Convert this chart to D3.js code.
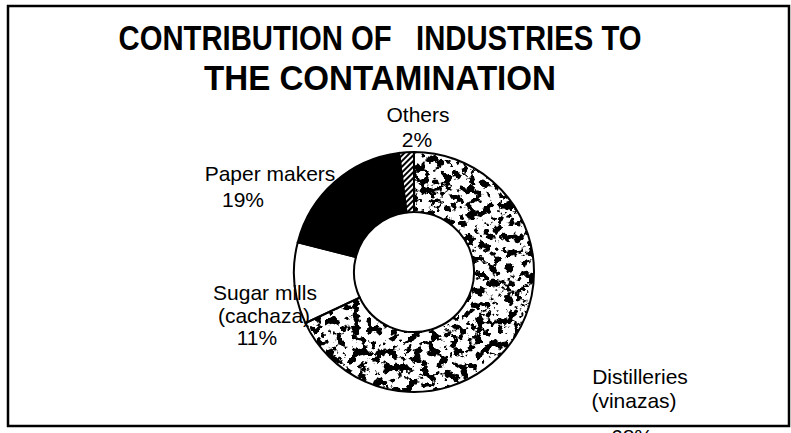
<!DOCTYPE html>
<html>
<head>
<meta charset="utf-8">
<script src="https://cdn.jsdelivr.net/npm/d3@7"></script>
<style>
  body { margin: 0; background: #fff; }
  svg { display: block; }
</style>
</head>
<body>
<div id="chart"></div>
<script>
// chart values
var categories = ["Distilleries (vinazas)", "Sugar mills (cachaza)", "Paper makers", "Others"];
var shares = [68, 11, 19, 2];
var nameLines = [["Distilleries", "(vinazas)"], ["Sugar mills", "(cachaza)"], ["Paper makers"], ["Others"]];
var titleLines = ["CONTRIBUTION OF \u00a0 INDUSTRIES TO", "THE CONTAMINATION"];

var width = 791, height = 433;
var cx = 414, cy = 272, outerR = 120, innerR = 60;

// title line widths as printed (condensed face)
var titleWidths = [523, 352];

// where each label block sits (per line centre x, baseline y)
var labelLayout = [
  [[640, 384], [634, 408], [632, 444]],
  [[265, 300], [264, 323], [257, 345]],
  [[270, 181], [243, 207]],
  [[418, 122], [417, 147]]
];

var svg = d3.select("#chart")
  .append("svg")
  .attr("width", width)
  .attr("height", height);

var defs = svg.append("defs");

// granite like speckle for the big slice
var grain = defs.append("filter")
  .attr("id", "grain")
  .attr("x", 0).attr("y", 0).attr("width", 1).attr("height", 1);
grain.append("feTurbulence")
  .attr("type", "fractalNoise")
  .attr("baseFrequency", 0.13)
  .attr("numOctaves", 4)
  .attr("seed", 11)
  .attr("result", "noise");
grain.append("feColorMatrix")
  .attr("in", "noise")
  .attr("type", "matrix")
  .attr("values", "0 0 0 0 0  0 0 0 0 0  0 0 0 0 0  -16 0 0 0 7.8")
  .attr("result", "blot");
grain.append("feComposite")
  .attr("in", "blot")
  .attr("in2", "SourceGraphic")
  .attr("operator", "in");

// diagonal hatch for "Others"
var hatch = defs.append("pattern")
  .attr("id", "hatch")
  .attr("patternUnits", "userSpaceOnUse")
  .attr("width", 4).attr("height", 4)
  .attr("patternTransform", "rotate(-45)");
hatch.append("rect").attr("width", 4).attr("height", 4).attr("fill", "#fff");
hatch.append("rect").attr("width", 4).attr("height", 2).attr("fill", "#000");

// frame
svg.append("rect")
  .attr("x", 8).attr("y", 6)
  .attr("width", 781).attr("height", 420)
  .attr("fill", "none")
  .attr("stroke", "#000")
  .attr("stroke-width", 2.5);

// title
svg.append("g").selectAll("text")
  .data(titleLines)
  .enter()
  .append("text")
  .attr("x", 380)
  .attr("y", (d, i) => 50 + i * 40)
  .attr("text-anchor", "middle")
  .attr("textLength", (d, i) => titleWidths[i])
  .attr("lengthAdjust", "spacingAndGlyphs")
  .style("font-family", "'Liberation Sans', Arial, sans-serif")
  .style("font-weight", "bold")
  .style("font-size", "35px")
  .text(d => d);

var pie = d3.pie().sort(null).value(d => d);
var arcs = pie(shares);
var arc = d3.arc().innerRadius(innerR).outerRadius(outerR);

var fills = ["#fff", "#fff", "#000", "url(#hatch)"];

var g = svg.append("g").attr("transform", "translate(" + cx + "," + cy + ")");

g.selectAll("path.slice")
  .data(arcs)
  .enter()
  .append("path")
  .attr("class", "slice")
  .attr("d", arc)
  .attr("fill", (d, i) => fills[i]);

// speckles on the distilleries slice
g.append("path")
  .attr("d", arc(arcs[0]))
  .attr("fill", "#000")
  .attr("filter", "url(#grain)");

g.selectAll("path.edge")
  .data(arcs)
  .enter()
  .append("path")
  .attr("class", "edge")
  .attr("d", arc)
  .attr("fill", "none")
  .attr("stroke", "#000")
  .attr("stroke-width", 2);

// labels
shares.forEach(function (v, i) {
  var lines = nameLines[i].concat([v + "%"]);
  svg.append("g").selectAll("text")
    .data(lines)
    .enter()
    .append("text")
    .attr("x", (d, j) => labelLayout[i][j][0])
    .attr("y", (d, j) => labelLayout[i][j][1])
    .attr("text-anchor", "middle")
    .style("font-family", "'Liberation Sans', Arial, sans-serif")
    .style("font-size", "21px")
    .text(d => d);
});
</script>
</body>
</html>
